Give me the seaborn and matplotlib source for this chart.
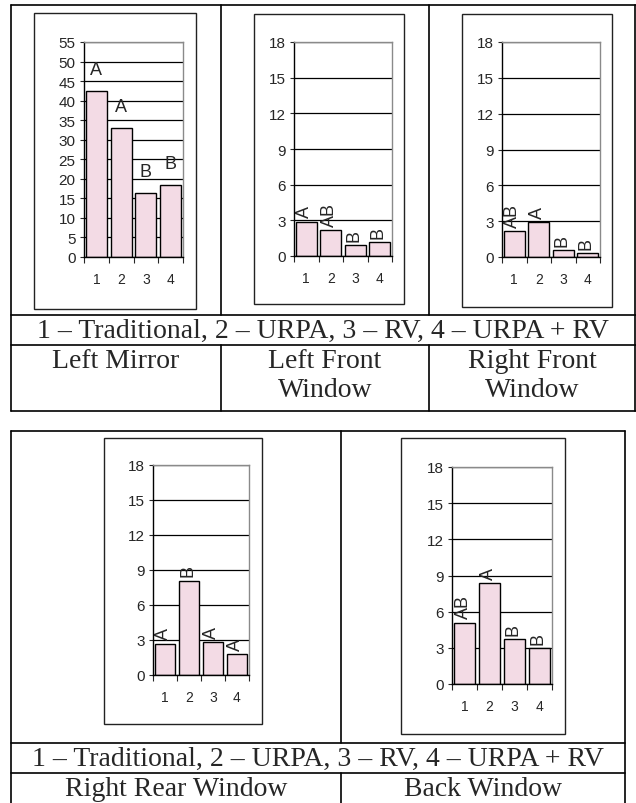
import matplotlib
matplotlib.use("Agg")
import matplotlib.pyplot as plt
import seaborn as sns
from matplotlib.lines import Line2D
from matplotlib.patches import Rectangle

# data
groups = ["1", "2", "3", "4"]
left_mirror = [42.5, 33.0, 16.5, 18.5]
left_front = [2.9, 2.2, 0.9, 1.15]
right_front = [2.2, 2.9, 0.6, 0.35]
right_rear = [2.7, 8.1, 2.8, 1.8]
back_window = [5.1, 8.4, 3.7, 3.0]

left_mirror_sig = ["A", "A", "B", "B"]
left_front_sig = ["A", "AB", "B", "B"]
right_front_sig = ["AB", "A", "B", "B"]
right_rear_sig = ["A", "B", "A", "A"]
back_window_sig = ["AB", "A", "B", "B"]

legend_text = "1 \u2013 Traditional, 2 \u2013 URPA, 3 \u2013 RV, 4 \u2013 URPA + RV"
top_labels = ["Left Mirror", "Left Front\nWindow", "Right Front\nWindow"]
bottom_labels = ["Right Rear Window", "Back Window"]

sns.set_style("white")
plt.rcParams["font.family"] = ["Liberation Sans", "DejaVu Sans"]

W, H = 636, 804
fig = plt.figure(figsize=(W / 100, H / 100), dpi=100)
fig.patch.set_facecolor("white")

BAR = "#f3dbe5"


def px_rect(x0, y0, x1, y1):
    return [x0 / W, 1 - y1 / H, (x1 - x0) / W, (y1 - y0) / H]


def hline(x0, x1, y, lw=1.2):
    fig.add_artist(Line2D([x0 / W, x1 / W], [1 - y / H, 1 - y / H],
                          color="black", lw=lw, transform=fig.transFigure))


def vline(x, y0, y1, lw=1.2):
    fig.add_artist(Line2D([x / W, x / W], [1 - y0 / H, 1 - y1 / H],
                          color="black", lw=lw, transform=fig.transFigure))


def cell_text(x, y, s, va="center"):
    fig.text(x / W, 1 - y / H, s, ha="center", va=va, fontsize=20,
             family=["Liberation Serif", "DejaVu Serif"], linespacing=1.2)


def panel(frame, plot, values, sig, ymax, step, rotate):
    r = px_rect(*frame)
    fig.add_artist(Rectangle((r[0], r[1]), r[2], r[3], transform=fig.transFigure,
                             fill=False, edgecolor="#222222", lw=1.0))
    ax = fig.add_axes(px_rect(*plot))
    sns.barplot(x=groups, y=values, ax=ax, color=BAR, saturation=1,
                edgecolor="black", linewidth=1.0, width=0.85)
    ax.set_ylim(0, ymax)
    ax.set_xlim(-0.5, 3.5)
    ax.set_yticks(range(0, ymax + 1, step))
    ax.set_axisbelow(True)
    ax.yaxis.grid(True, color="black", lw=0.9)
    for s in ["top", "right"]:
        ax.spines[s].set_color("#8a8a8a")
        ax.spines[s].set_linewidth(1.0)
    for s in ["left", "bottom"]:
        ax.spines[s].set_color("black")
        ax.spines[s].set_linewidth(1.0)
    ax.set_xlabel("")
    ax.set_ylabel("")
    ax.tick_params(axis="y", left=True, length=3, width=0.8, pad=3, labelsize=11)
    ax.tick_params(axis="x", which="major", bottom=True, length=0, pad=11, labelsize=10)
    ax.set_xticks([-0.5, 0.5, 1.5, 2.5, 3.5], minor=True)
    ax.tick_params(axis="x", which="minor", bottom=True, length=4, width=0.8)
    for i, (v, t) in enumerate(zip(values, sig)):
        if rotate:
            ax.annotate(t, (i, v), xytext=(-1, 3), textcoords="offset points",
                        ha="center", va="bottom", rotation=90, fontsize=13)
        else:
            ax.annotate(t, (i, v), xytext=(0, 9), textcoords="offset points",
                        ha="center", va="bottom", fontsize=13)
    return ax


# top table
hline(11, 636, 6)
hline(11, 636, 316)
hline(11, 636, 346)
hline(11, 636, 412)
vline(11, 6, 412)
vline(635, 6, 412)
for x in (221, 429):
    vline(x, 6, 316)
    vline(x, 346, 412)

panel((34, 14, 196, 310), (84, 43, 183, 258), left_mirror, left_mirror_sig, 55, 5, False)
panel((254, 15, 404, 305), (294, 43, 392, 257), left_front, left_front_sig, 18, 3, True)
panel((462, 15, 612, 308), (502, 43, 600, 258), right_front, right_front_sig, 18, 3, True)

cell_text(323, 331, legend_text)
for cx, lab in zip((116, 325, 532), top_labels):
    cell_text(cx, 349, lab, va="top")

# bottom table
hline(11, 625, 432)
hline(11, 625, 744)
hline(11, 625, 774)
vline(11, 432, 804)
vline(625, 432, 804)
vline(341, 432, 744)
vline(341, 774, 804)

panel((104, 439, 262, 725), (153, 466, 249, 676), right_rear, right_rear_sig, 18, 3, True)
panel((401, 439, 565, 735), (452, 468, 552, 685), back_window, back_window_sig, 18, 3, True)

cell_text(318, 759, legend_text)
cell_text(176, 777, bottom_labels[0], va="top")
cell_text(483, 777, bottom_labels[1], va="top")

fig.savefig("out.png", dpi=100)
